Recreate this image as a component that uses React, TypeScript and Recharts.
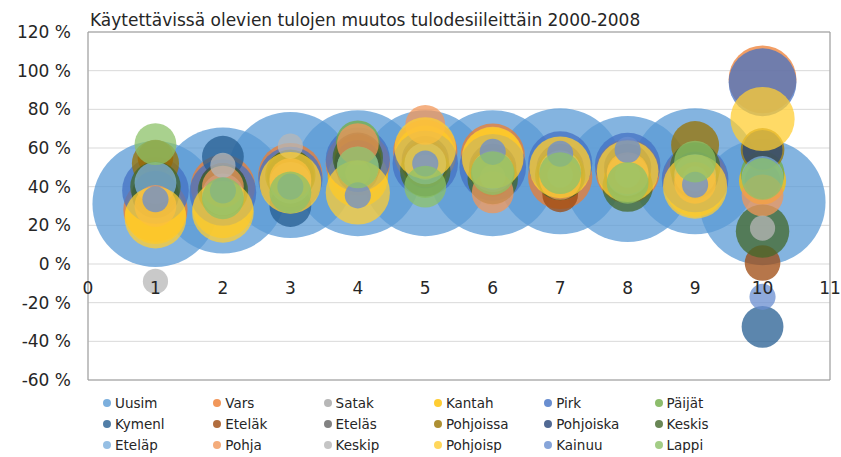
import React from 'react';
import { ScatterChart, Scatter, XAxis, YAxis, ZAxis, CartesianGrid, ReferenceArea, ReferenceDot } from 'recharts';

const deciles = [1, 2, 3, 4, 5, 6, 7, 8, 9, 10];
const xTicks = [0, 1, 2, 3, 4, 5, 6, 7, 8, 9, 10, 11];
const yTicks = [-60, -40, -20, 0, 20, 40, 60, 80, 100, 120];

const regionNames = [
  'Uusim', 'Vars', 'Satak', 'Kantah', 'Pirk', 'Päijät',
  'Kymenl', 'Eteläk', 'Eteläs', 'Pohjoissa', 'Pohjoiska', 'Keskis',
  'Eteläp', 'Pohja', 'Keskip', 'Pohjoisp', 'Kainuu', 'Lappi',
];

const regionColors = [
  '#5B9BD5', '#ED7D31', '#A5A5A5', '#FFC000', '#4472C4', '#70AD47',
  '#255E91', '#9E480E', '#636363', '#997300', '#264478', '#43682B',
  '#7CAFDD', '#F1975A', '#B7B7B7', '#FFCD33', '#698ED0', '#8CC168',
];

// income change %, deciles 1..10
const uusim = [31, 38, 46, 47, 47, 47, 48, 44, 48, 32];
const vars = [28, 40, 46, 52, 58, 56, 45, 48, 44, 95.5];
const satak = [36, 36, 45, 50, 50, 40, 44, 46, 42, 40];
const kantah = [26, 29, 43, 45, 56, 55, 50, 48, 40, 43];
const pirk = [38, 37, 44, 54, 52, 50, 52, 51, 44, 94];
const paijat = [42, 38, 40, 63, 45, 50, 47, 45, 52, 47];
const kymenl = [38, 55.5, 30, 48, 50, 48, 48, 46, 46, -32.5];
const etelak = [55, 40, 46, 52, 54, 44, 36, 44, 44, 0.5];
const etelas = [40, 42, 46, 55, 50, 48, 48, 47, 46, 43];
const pohjoissa = [52, 40, 47, 55, 52, 48, 46, 46, 61.5, 59];
const pohjoiska = [36, 40, 45, 52, 54, 50, 50, 50, 46, 59];
const keskis = [40, 38, 46, 55, 48, 44, 46, 40, 50, 17];
const etelap = [42, 36, 42, 50, 52, 48, 48, 46, 46, 45];
const pohja = [30, 40, 44, 62, 72, 37, 44, 47, 42, 35.5];
const keskip = [-9, 51, 61, 47, 50, 45, 46, 46, 44, 18.6];
const pohjoisp = [24, 27, 42, 37, 60, 55, 50, 48, 40, 75];
const kainuu = [33.5, 38, 40, 35.5, 52, 58, 57, 59, 41, -17];
const lappi = [62, 34, 37, 50, 40, 47, 47, 42, 53, 44];

// bubble sizes, deciles 1..10
const sizeUusim = [100, 100, 100, 100, 100, 100, 100, 100, 100, 100];
const sizeVars = [26, 26, 26, 26, 26, 26, 26, 26, 26, 29];
const sizeSatak = [9, 9, 9, 9, 9, 9, 9, 9, 9, 9];
const sizeKantah = [23, 23, 23, 23, 23, 23, 23, 23, 23, 14];
const sizePirk = [28, 28, 26, 26, 27, 28, 26, 27, 28, 29];
const sizePaijat = [11, 11, 11, 12, 11, 11, 11, 11, 11, 12];
const sizeKymenl = [11, 11, 11, 11, 11, 11, 11, 11, 11, 11];
const sizeEtelak = [8, 8, 8, 8, 8, 8, 8, 8, 8, 8];
const sizeEtelas = [8, 8, 8, 8, 8, 8, 8, 8, 8, 8];
const sizePohjoissa = [14, 14, 14, 14, 14, 14, 14, 14, 14.5, 12];
const sizePohjoiska = [14, 14, 14, 14, 14, 14, 14, 14, 14, 10];
const sizeKeskis = [16, 16, 16, 16, 16, 16, 16, 16, 16, 18];
const sizeEtelap = [11, 11, 11, 11, 11, 11, 11, 11, 11, 11];
const sizePohja = [11, 11, 11, 11, 10, 11, 11, 11, 11, 11];
const sizeKeskip = [4, 4, 4, 4, 4, 4, 4, 4, 4, 4];
const sizePohjoisp = [24, 24, 24, 26, 24, 24, 24, 24, 26, 26];
const sizeKainuu = [4.3, 4.3, 4.3, 4.3, 4.3, 4.3, 4.3, 4.3, 4.3, 4.3];
const sizeLappi = [11, 11, 11, 11, 11, 12, 11, 11, 11, 11];

const changes = [
  uusim, vars, satak, kantah, pirk, paijat,
  kymenl, etelak, etelas, pohjoissa, pohjoiska, keskis,
  etelap, pohja, keskip, pohjoisp, kainuu, lappi,
];
const sizes = [
  sizeUusim, sizeVars, sizeSatak, sizeKantah, sizePirk, sizePaijat,
  sizeKymenl, sizeEtelak, sizeEtelas, sizePohjoissa, sizePohjoiska, sizeKeskis,
  sizeEtelap, sizePohja, sizeKeskip, sizePohjoisp, sizeKainuu, sizeLappi,
];

const FONT = '"DejaVu Sans", sans-serif';
const TEXT = '#262626';
const MAX_R = 63;

const seriesData = regionNames.map((name, i) =>
  deciles.map((d, j) => ({ x: d, y: changes[i][j], z: sizes[i][j] }))
);

const Bubble = (props: any) => {
  const r = props.size ? Math.sqrt(props.size / Math.PI) : props.width / 2;
  return <circle cx={props.cx} cy={props.cy} r={r} fill={props.fill} fillOpacity={0.75} />;
};

export default function App() {
  return (
    <div style={{ position: 'absolute', left: 0, top: 0, width: 841, height: 457, background: '#fff' }}>
      <div
        style={{
          position: 'absolute', left: 90, top: 12, fontFamily: FONT, fontSize: 17,
          lineHeight: '17px', color: TEXT, whiteSpace: 'nowrap',
        }}
      >
        Käytettävissä olevien tulojen muutos tulodesiileittäin 2000-2008
      </div>
      <ScatterChart width={841} height={457} margin={{ top: 32, right: 11, bottom: 77, left: 8 }}>
        <CartesianGrid stroke="#D9D9D9" />
        <XAxis type="number" dataKey="x" domain={[0, 11]} ticks={xTicks} tick={false} axisLine={false} tickLine={false} height={0} />
        <YAxis
          type="number"
          dataKey="y"
          domain={[-60, 120]}
          ticks={yTicks}
          allowDataOverflow
          width={80}
          tickSize={0}
          tickMargin={17}
          axisLine={false}
          tickLine={false}
          tickFormatter={(v: number) => `${v} %`}
          tick={{ fill: TEXT, fontSize: 17, fontFamily: FONT }}
        />
        <ZAxis type="number" dataKey="z" domain={[0, 100]} range={[0, Math.PI * MAX_R * MAX_R]} />
        <ReferenceArea x1={0} x2={11} y1={-60} y2={120} fill="none" stroke="#9A9A9A" />
        {regionNames.map((name, i) => (
          <Scatter
            key={name}
            name={name}
            data={seriesData[i]}
            fill={regionColors[i]}
            shape={<Bubble />}
            isAnimationActive={false}
          />
        ))}
        {xTicks.map((t) => (
          <ReferenceDot
            key={`xt-${t}`}
            x={t}
            y={0}
            r={0}
            fill="none"
            stroke="none"
            label={{ value: String(t), position: 'bottom', offset: 18, fill: TEXT, fontSize: 17, fontFamily: FONT }}
          />
        ))}
      </ScatterChart>
      {regionNames.map((name, i) => (
        <div
          key={`lg-${name}`}
          style={{
            position: 'absolute',
            left: 103 + (i % 6) * 110.3,
            top: 395 + Math.floor(i / 6) * 21,
            height: 16,
            display: 'flex',
            alignItems: 'center',
            fontFamily: FONT,
            fontSize: 13.5,
            color: TEXT,
            whiteSpace: 'nowrap',
          }}
        >
          <span
            style={{
              display: 'inline-block', width: 8, height: 8, borderRadius: 4,
              background: regionColors[i], opacity: 0.8, marginRight: 4,
            }}
          />
          {name}
        </div>
      ))}
    </div>
  );
}
